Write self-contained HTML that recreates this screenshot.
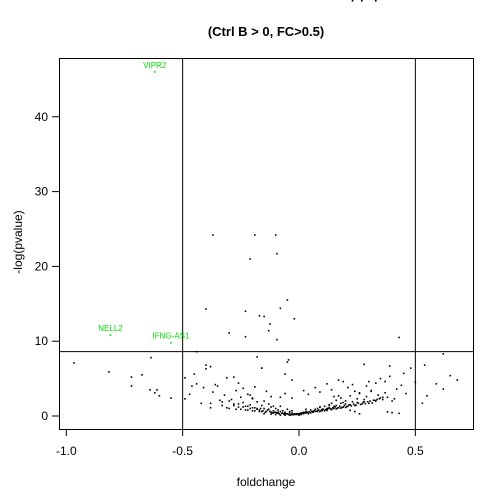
<!DOCTYPE html>
<html><head><meta charset="utf-8"><style>
body{margin:0;background:#fff}
svg text{font-family:"Liberation Sans",sans-serif}
#yt{position:absolute;left:-22px;top:234px;width:80px;height:16px;text-align:center;font:12px "Liberation Sans",sans-serif;transform:rotate(-90deg);transform-origin:40px 8px;line-height:16px}
</style></head><body>
<div id="yt">-log(pvalue)</div>
<svg id="c" width="504" height="504" style="display:block" xmlns="http://www.w3.org/2000/svg">
<text x="266" y="36" text-anchor="middle" font-size="13" font-weight="bold">(Ctrl B &gt; 0, FC&gt;0.5)</text>
<text x="266" y="486" text-anchor="middle" font-size="12">foldchange</text>
<g id="ax"></g>
<g id="pts"></g>
<rect x="59.5" y="58.5" width="414" height="371" fill="none" stroke="#000"/>
</svg>
<script>
const xTicks=[-1.0,-0.5,0.0,0.5];
const xTickLabels=["-1.0","-0.5","0.0","0.5"];
const yTicks=[0,10,20,30,40];
const yTickLabels=["0","10","20","30","40"];
const vLines=[-0.5,0.5];
const hLine=[8.6];
const labelNames=["VIPR2","NELL2","IFNG-AS1"];
const labelX=[-0.62,-0.81,-0.55];
const labelY=[46.0,10.8,9.8];
const ptX=[-0.967,-0.817,-0.72,-0.72,-0.675,-0.636,-0.64,-0.61,-0.62,-0.60,-0.55,
-0.49,-0.49,-0.45,-0.40,-0.40,-0.38,-0.46,-0.44,-0.41,-0.37,-0.36,-0.47,-0.38,-0.38,-0.44,-0.18,-0.16,-0.31,
-0.37,-0.19,-0.10,-0.095,-0.21,-0.05,-0.40,-0.23,-0.08,-0.17,-0.15,-0.02,-0.125,-0.13,-0.30,-0.23,-0.095,0.43,
0.62,0.54,0.65,0.68,0.59,0.62,0.55,0.53,0.50,0.48,0.45,0.39,0.28,0.17,-0.05,-0.045,-0.06,-0.16,-0.03,
-0.34,-0.33,-0.32,-0.30,-0.29,-0.28,-0.27,-0.26,-0.25,-0.25,-0.24,-0.23,-0.22,-0.22,-0.21,-0.20,-0.20,-0.19,-0.18,-0.18,-0.17,-0.16,-0.16,-0.15,-0.15,-0.14,-0.13,-0.13,-0.12,-0.12,-0.11,-0.11,-0.10,-0.10,-0.09,-0.09,-0.08,-0.08,-0.07,-0.07,-0.06,-0.06,-0.05,-0.05,-0.04,-0.04,-0.03,-0.03,-0.02,-0.02,-0.01,-0.01,0.0,0.0,0.005,0.01,0.01,0.02,0.02,0.03,0.03,0.04,0.04,0.05,0.05,0.06,0.06,0.07,0.07,0.08,0.08,0.09,0.09,0.10,0.10,0.11,0.11,0.12,0.12,0.13,0.13,0.14,0.14,0.15,0.15,0.16,0.16,0.17,0.18,0.18,0.19,0.20,0.20,0.21,0.22,0.22,0.23,0.24,0.25,0.25,0.26,0.27,0.28,0.28,0.29,0.30,0.31,0.32,0.33,0.34,0.35,0.36,0.37,0.38,0.40,0.41,0.42,0.44,0.46,
-0.26,-0.24,-0.21,-0.19,-0.14,-0.12,-0.08,-0.06,-0.03,0.02,0.04,0.07,0.09,0.12,0.14,0.17,0.19,0.21,0.23,0.26,0.29,0.31,0.33,0.35,0.37,0.39,0.30,0.24,0.15,-0.28,-0.35,-0.42,-0.20,-0.11,
-0.33,-0.31,-0.30,-0.28,-0.27,-0.26,-0.24,-0.23,-0.22,-0.21,-0.20,-0.19,-0.18,-0.17,-0.165,-0.155,-0.145,-0.135,-0.125,-0.115,-0.105,-0.095,-0.085,-0.075,-0.065,-0.055,-0.045,-0.035,-0.025,-0.015,-0.005,0.005,0.015,0.025,0.035,0.045,0.055,0.065,0.075,0.085,0.095,0.105,0.115,0.125,0.135,0.145,0.155,0.165,0.175,0.185,0.195,0.205,0.215,0.225,0.235,0.245,0.255,0.265,0.275,0.285,0.295,0.305,0.315,0.325,0.335,0.345,0.36,0.38,0.40,0.43,
-0.12,-0.10,-0.08,-0.06,-0.04,-0.02,0.0,0.02,0.04,0.06,0.08,0.10,0.12,0.14,0.16,0.18,0.20,0.22,0.24,0.26,-0.15,-0.09,-0.03,0.03,0.09,0.13,0.19,0.23,0.27,0.33];
const ptY=[7.1,5.9,5.2,4.0,5.5,7.8,3.5,3.5,3.1,2.7,2.4,
5.1,2.3,5.6,6.8,6.3,6.6,4.0,4.3,3.8,3.2,4.2,2.9,1.7,1.1,8.6,7.9,6.4,5.1,
24.2,24.2,24.2,21.7,21.0,15.5,14.3,14.0,14.4,13.4,13.3,13.0,12.3,11.4,11.1,10.6,10.2,10.5,
8.3,6.8,5.4,4.8,4.3,3.6,2.7,1.7,4.5,6.4,5.7,6.7,6.9,4.8,7.2,7.5,5.6,6.4,4.8,
2.1,1.4,2.8,1.0,2.2,1.6,3.4,1.2,2.5,0.9,1.8,1.3,2.9,0.8,1.5,1.1,2.3,0.7,1.9,1.0,0.8,1.4,0.6,1.0,2.0,0.6,0.9,1.6,0.5,1.2,0.7,0.4,1.0,0.5,0.8,0.4,0.6,1.3,0.4,0.7,0.3,0.5,0.9,0.3,0.4,0.6,0.2,0.4,0.3,0.2,0.2,0.3,0.1,0.2,0.3,0.4,0.2,0.5,0.3,0.4,0.6,0.3,0.5,0.8,0.4,0.6,0.5,0.9,0.6,0.7,1.0,0.6,1.2,0.8,0.9,0.7,1.3,1.0,0.8,1.5,1.1,0.9,1.7,1.3,1.0,2.1,1.4,1.1,1.7,2.4,1.2,1.6,2.0,1.3,2.7,1.5,1.9,1.4,2.3,1.8,3.0,1.6,2.2,1.9,2.6,1.7,3.3,2.1,2.0,2.8,2.4,2.2,3.1,2.5,2.0,2.3,
3.6,4.1,3.0,4.4,3.7,2.8,3.9,3.3,2.6,2.5,3.0,2.4,3.4,2.9,3.8,3.2,4.3,3.5,2.7,4.6,3.8,4.2,3.1,4.0,3.4,4.4,5.0,4.6,5.3,4.6,3.3,2.6,5.2,4.0,
1.7,2.4,1.3,1.9,1.1,2.0,1.4,0.9,1.6,1.2,0.8,1.3,1.0,0.7,1.1,0.9,0.6,1.0,0.7,0.5,0.8,0.6,0.4,0.5,0.4,0.3,0.35,0.25,0.3,0.2,0.15,0.2,0.25,0.3,0.35,0.4,0.45,0.5,0.55,0.6,0.7,0.65,0.8,0.75,0.9,0.85,1.0,0.95,1.1,1.2,1.05,1.3,1.15,1.4,1.25,1.5,1.35,1.6,1.45,1.7,1.55,1.8,1.65,1.9,2.0,1.75,2.1,2.2,2.3,2.5,
0.55,0.45,0.35,0.25,0.2,0.12,0.1,0.12,0.2,0.28,0.35,0.45,0.55,0.6,0.7,0.75,0.85,0.95,1.05,1.15,0.75,0.6,0.3,0.3,0.5,0.7,0.9,1.2,1.4,1.8];
const X=v=>299+(v)*232.7, Y=v=>416-v*7.48;
const NS="http://www.w3.org/2000/svg";
const ax=document.getElementById('ax'), pts=document.getElementById('pts');
function mk(t,a,p){const e=document.createElementNS(NS,t);for(const k in a)e.setAttribute(k,a[k]);p.appendChild(e);return e;}
xTicks.forEach((v,i)=>{
 const l=mk('line',{x1:X(v),x2:X(v),y1:429,y2:436,stroke:'#000'},ax);
 
 
 const t=mk('text',{x:X(v),y:455,'text-anchor':'middle','font-size':12},ax);t.textContent=xTickLabels[i];
 
 
});
yTicks.forEach((v,i)=>{
 const l=mk('line',{x1:52,x2:59,y1:Y(v),y2:Y(v),stroke:'#000'},ax);
 
 
 const t=mk('text',{x:48,y:Y(v)+4,'text-anchor':'end','font-size':12},ax);t.textContent=yTickLabels[i];
 
 
});
vLines.forEach(v=>{
 const l=mk('line',{x1:X(v),x2:X(v),y1:58,y2:429,stroke:'#000'},ax);
 
 
});
hLine.forEach(v=>{
 const l=mk('line',{x1:59,x2:473,y1:Y(v),y2:Y(v),stroke:'#000'},ax);
 
 
});
ptX.forEach((v,i)=>{
 const r=mk('rect',{x:X(v)-0.8,y:Y(ptY[i])-0.8,width:1.6,height:1.6,fill:'#000'},pts);
 
 
});
labelNames.forEach((n,i)=>{
 const r=mk('rect',{x:X(labelX[i])-0.8,y:Y(labelY[i])-0.8,width:1.6,height:1.6,fill:'#00dd00'},pts);
 
 
 const t=mk('text',{x:X(labelX[i]),y:Y(labelY[i])-4,'text-anchor':'middle','font-size':8,fill:'#00dd00'},pts);t.textContent=n;
 
 
});
</script>
</body></html>
